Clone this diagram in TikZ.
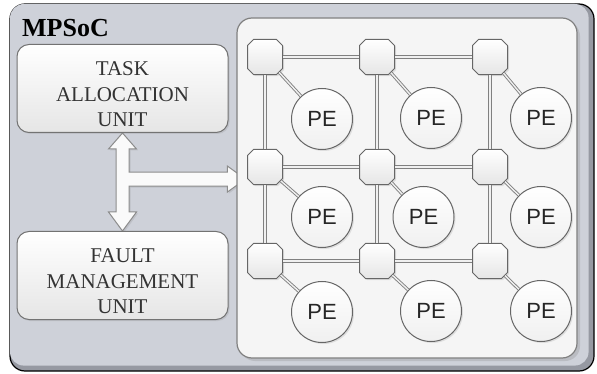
\documentclass[tikz,border=0pt]{standalone}
\usepackage{fontspec}
\setmainfont{Liberation Serif}
\newfontfamily\pefont{Liberation Sans}
\usetikzlibrary{positioning, calc, shapes.misc, shadows}
\definecolor{socbg}{RGB}{206,209,217}
\definecolor{socband}{RGB}{150,153,162}
\pgfdeclarelayer{back}
\pgfdeclarelayer{mid}
\pgfsetlayers{back,mid,main}

\begin{document}
\begin{tikzpicture}[
      x=1pt, y=-1pt,
      soc/.style = {draw=black, line width=1.2pt, rounded corners=15pt,
                    fill=socband, minimum width=584pt, minimum height=367pt},
      blk/.style = {draw=black!55, line width=1pt, rounded corners=12pt, align=center,
                    minimum width=211pt, minimum height=88pt,
                    top color=white, bottom color=black!10, text=black!80,
                    font=\fontsize{21}{25.5}\selectfont,
                    drop shadow={shadow xshift=1.5pt, shadow yshift=-1.5pt, opacity=.2}},
      noc/.style = {draw=black!50, line width=1.2pt, rounded corners=15pt, fill=black!4,
                    minimum width=340pt, minimum height=340pt,
                    drop shadow={shadow xshift=3pt, shadow yshift=-3pt, opacity=.25}},
      rtr/.style = {chamfered rectangle, chamfered rectangle xsep=3pt, inner sep=14.5pt,
                    draw=black!60, line width=1pt,
                    top color=white, bottom color=black!10,
                    drop shadow={shadow xshift=1.5pt, shadow yshift=-1.5pt, opacity=.2}},
      pe/.style  = {circle, minimum size=61pt, inner sep=0pt, draw=black!60, line width=1pt,
                    top color=white, bottom color=black!6, text=black!85,
                    font=\pefont\fontsize{22}{22}\selectfont,
                    drop shadow={shadow xshift=1.5pt, shadow yshift=-1.5pt, opacity=.2}},
      lnk/.style = {draw=black!50, double=black!6, double distance=1.4pt, line width=.9pt},
      barrow/.style = {draw=black!45, line width=1pt, fill=black!2,
                    drop shadow={shadow xshift=1.5pt, shadow yshift=-1.5pt, opacity=.2}}
    ]
    \useasboundingbox (0,0) rectangle (597,374);
    % MPSoC ramme
    \begin{pgfonlayer}{back}
      \node[soc] (mpsoc) at (302,187.5) {};
      \fill[socbg, rounded corners=14pt] ($(mpsoc.north west)+(.6,.6)$)
           rectangle ($(mpsoc.south east)+(-6,-6)$);
    \end{pgfonlayer}
    \node[anchor=base west, inner sep=0pt, font=\bfseries\fontsize{26}{26}\selectfont]
         (title) at (22,37) {MPSoC};
    % enheder
    \node[blk] (tau) at (122.5,88.5)  {TASK\rule{0pt}{26pt}\\ALLOCATION\\UNIT};
    \node[blk] (fau) at (122.5,275.5) {FAULT\rule{0pt}{26pt}\\MANAGEMENT\\UNIT};
    \node[noc] (noc) at (407,188) {};
    % routere
    \node[rtr] (r11) at (265,57)  {};
    \node[rtr] (r12) at (377,57)  {};
    \node[rtr] (r13) at (490,57)  {};
    \node[rtr] (r21) at (265,167) {};
    \node[rtr] (r22) at (377,167) {};
    \node[rtr] (r23) at (490,167) {};
    \node[rtr] (r31) at (265,261) {};
    \node[rtr] (r32) at (377,261) {};
    \node[rtr] (r33) at (490,261) {};
    % processorer
    \node[pe] (p11) at (322,119)   {PE};
    \node[pe] (p12) at (431,118)   {PE};
    \node[pe] (p13) at (541,118)   {PE};
    \node[pe] (p21) at (322,217)   {PE};
    \node[pe] (p22) at (423.5,217) {PE};
    \node[pe] (p23) at (541,217)   {PE};
    \node[pe] (p31) at (322,312)   {PE};
    \node[pe] (p32) at (431,311)   {PE};
    \node[pe] (p33) at (541,311)   {PE};
    % forbindelser i nettet
    \draw[lnk] (r11) -- (r12);
    \draw[lnk] (r12) -- (r13);
    \draw[lnk] (r21) -- (r22);
    \draw[lnk] (r22) -- (r23);
    \draw[lnk] (r31) -- (r32);
    \draw[lnk] (r32) -- (r33);
    \draw[lnk] (r11) -- (r21);
    \draw[lnk] (r21) -- (r31);
    \draw[lnk] (r12) -- (r22);
    \draw[lnk] (r22) -- (r32);
    \draw[lnk] (r13) -- (r23);
    \draw[lnk] (r23) -- (r33);
    \draw[lnk] (r11) -- (p11);
    \draw[lnk] (r12) -- (p12);
    \draw[lnk] (r13) -- (p13);
    \draw[lnk] (r21) -- (p21);
    \draw[lnk] (r22) -- (p22);
    \draw[lnk] (r23) -- (p23);
    \draw[lnk] (r31) -- (p31);
    \draw[lnk] (r32) -- (p32);
    \draw[lnk] (r33) -- (p33);
    % blokpil mellem enhederne og nettet
    \coordinate (j) at ($(tau.south)!.47!(fau.north)$);
    \begin{pgfonlayer}{mid}
      \draw[barrow] (tau.south)
        -- ($(tau.south)+(14,16)$) -- ($(tau.south)+(6.5,16)$)
        -- ($(j)+(6.5,-7)$) -- ($(noc.west |- j)+(-9,-7)$)
        -- ($(noc.west |- j)+(-9,-13)$) -- ($(noc.west |- j)+(9,0)$)
        -- ($(noc.west |- j)+(-9,13)$) -- ($(noc.west |- j)+(-9,7)$)
        -- ($(j)+(6.5,7)$) -- ($(fau.north)+(6.5,-19)$)
        -- ($(fau.north)+(14,-19)$) -- (fau.north)
        -- ($(fau.north)+(-14,-19)$) -- ($(fau.north)+(-6.5,-19)$)
        -- ($(tau.south)+(-6.5,16)$) -- ($(tau.south)+(-14,16)$)
        -- cycle;
    \end{pgfonlayer}
  \end{tikzpicture}
\end{document}
